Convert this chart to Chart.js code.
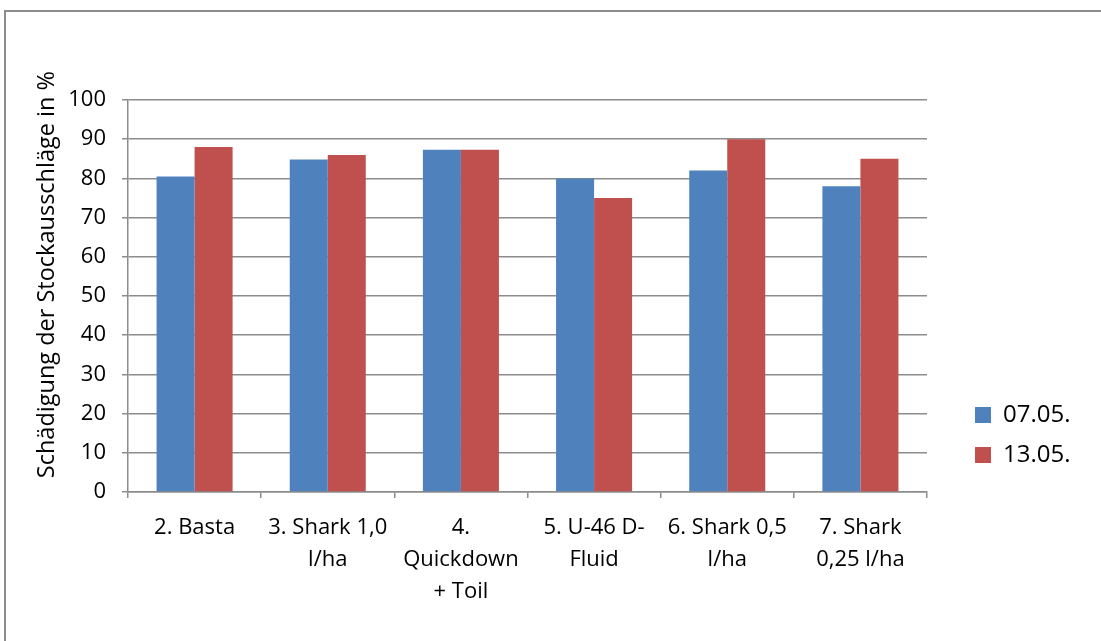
<!DOCTYPE html>
<html>
<head>
<meta charset="utf-8">
<script src="https://cdn.jsdelivr.net/npm/chart.js@4/dist/chart.umd.min.js"></script>
<style>
  html, body { margin: 0; padding: 0; background: #ffffff; }
  #wrap { position: relative; width: 1101px; height: 641px; overflow: hidden; }
  canvas { display: block; }
</style>
</head>
<body>
<div id="wrap"><canvas id="c" width="1101" height="641"></canvas></div>
<script>
// ---- data ----
const categories = [
  ['2. Basta'],
  ['3. Shark 1,0', 'l/ha'],
  ['4.', 'Quickdown', '+ Toil'],
  ['5. U-46 D-', 'Fluid'],
  ['6. Shark 0,5', 'l/ha'],
  ['7. Shark', '0,25 l/ha']
];
const seriesNames = ['07.05.', '13.05.'];
const values0705 = [80.5, 84.8, 87.3, 80, 82, 78];
const values1305 = [88, 86, 87.3, 75, 90, 85];
const yAxisTitle = 'Schädigung der Stockausschläge in %';
const yMin = 0, yMax = 100, yStep = 10;

// ---- style ----
const FONT = "'Open Sans', 'Liberation Sans', sans-serif";
const GRID = '#8c8c8c';

const framePlugin = {
  id: 'frame',
  beforeDraw(chart) {
    const ctx = chart.ctx;
    ctx.save();
    ctx.strokeStyle = '#8c8c8c';
    ctx.lineWidth = 2;
    ctx.beginPath();
    ctx.moveTo(5, 641);
    ctx.lineTo(5, 11);
    ctx.lineTo(1101, 11);
    ctx.stroke();
    ctx.restore();
  }
};

const legendPlace = {
  id: 'legendPlace',
  beforeLayout(chart) {
    const lg = chart.legend;
    if (lg && !lg._fixed) {
      const orig = lg.fit.bind(lg);
      lg.fit = function () { orig(); this.width = 174; };
      lg._fixed = true;
    }
  },
  afterLayout(chart) {
    const lg = chart.legend;
    if (!lg) return;
    lg.left = 959;
    lg.right = 1101;
    lg.top = 387;
    lg.bottom = 641;
  }
};

new Chart(document.getElementById('c'), {
  type: 'bar',
  data: {
    labels: categories,
    datasets: [
      { label: seriesNames[0], data: values0705, backgroundColor: '#4F81BD',
        categoryPercentage: 0.571, barPercentage: 1.0 },
      { label: seriesNames[1], data: values1305, backgroundColor: '#C0504D',
        categoryPercentage: 0.571, barPercentage: 1.0 }
    ]
  },
  options: {
    responsive: false,
    animation: false,
    devicePixelRatio: 1,
    layout: { padding: { top: 100, left: 0, right: 0, bottom: 0 } },
    plugins: {
      legend: {
        position: 'right',
        align: 'start',
        labels: {
          boxWidth: 16, boxHeight: 16, padding: 16,
          color: '#000', font: { family: FONT, size: 24 }
        }
      },
      tooltip: { enabled: false }
    },
    scales: {
      x: {
        grid: { display: true, drawOnChartArea: false, drawTicks: true, tickLength: 6,
                color: GRID, lineWidth: 1.5, offset: true },
        border: { display: true, color: GRID, width: 1.5 },
        ticks: { color: '#000', font: { family: FONT, size: 22, lineHeight: 1.45 },
                 padding: 14, maxRotation: 0, autoSkip: false },
        afterFit(scale) { scale.height = 149; }
      },
      y: {
        min: yMin, max: yMax,
        grid: { color: GRID, lineWidth: 1.5, tickLength: 6, drawTicks: true },
        border: { display: true, color: GRID, width: 1.5 },
        ticks: { stepSize: yStep, color: '#000', font: { family: FONT, size: 22 }, padding: 16 },
        title: { display: true, text: '       ' + yAxisTitle, color: '#000',
                 font: { family: FONT, size: 23.5 }, padding: { top: 33, bottom: 0 } },
        afterFit(scale) { scale.width = 128; }
      }
    }
  },
  plugins: [framePlugin, legendPlace]
});
</script>
</body>
</html>
